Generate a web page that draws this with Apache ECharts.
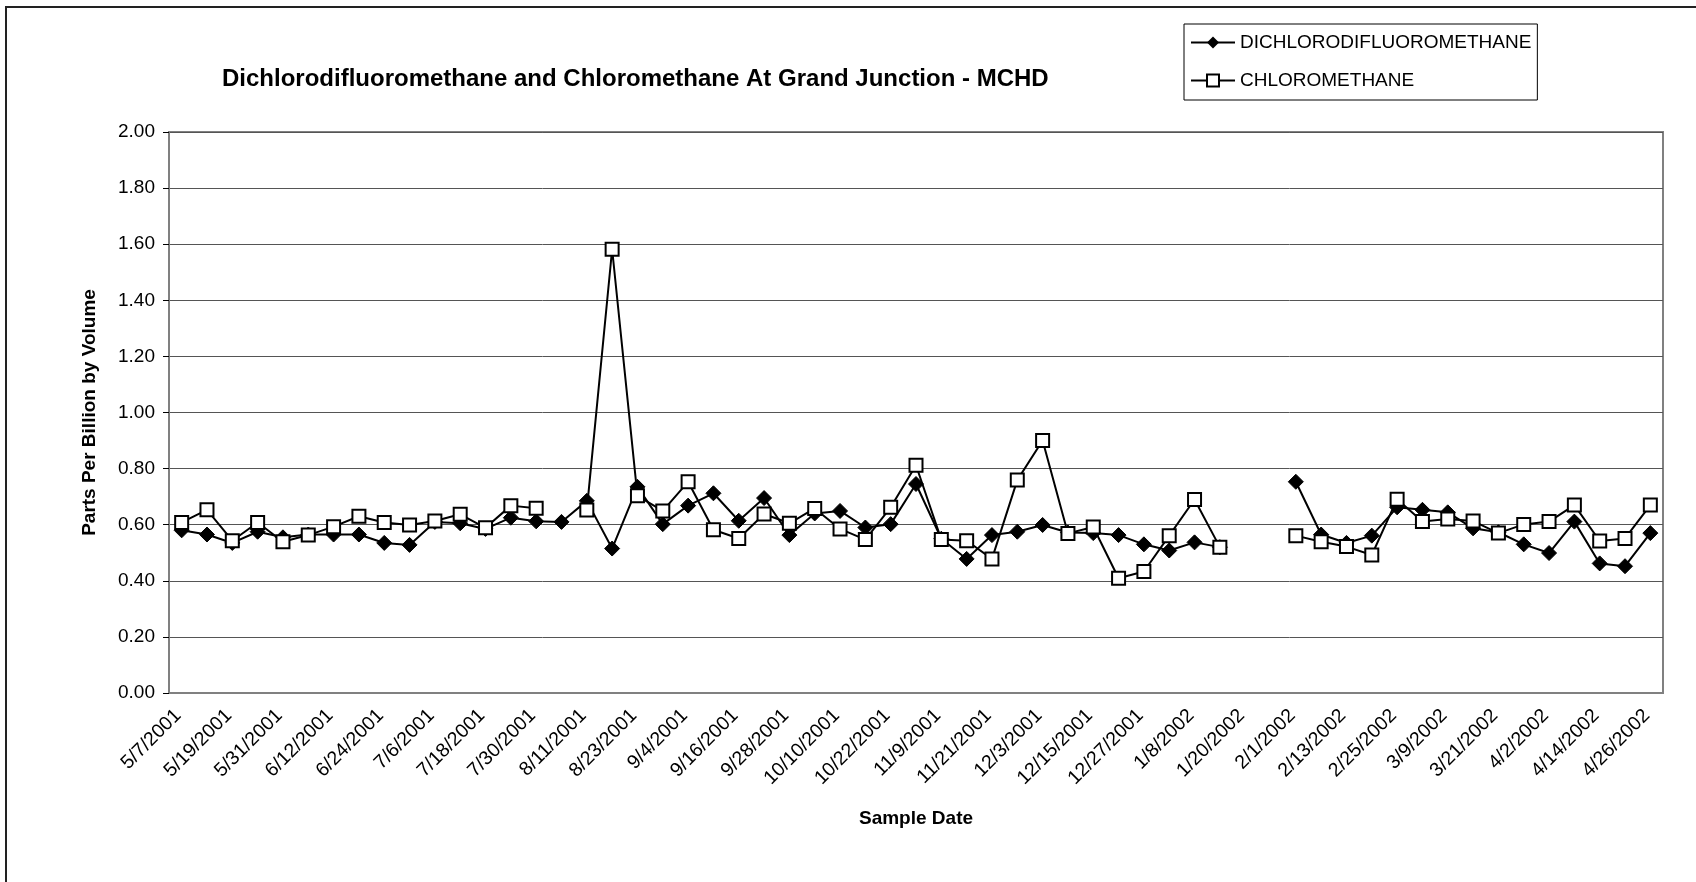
<!DOCTYPE html>
<html>
<head>
<meta charset="utf-8">
<script src="https://cdn.jsdelivr.net/npm/echarts@6/dist/echarts.min.js"></script>
<style>
  html, body { margin: 0; padding: 0; background: #fff; }
  #chart { width: 1696px; height: 882px; }
</style>
</head>
<body>
<div id="chart"></div>
<script>
// sample dates (every other one is labelled on the axis)
const sampleDates = [
  '5/7/2001', '5/13/2001', '5/19/2001', '5/25/2001', '5/31/2001', '6/6/2001',
  '6/12/2001', '6/18/2001', '6/24/2001', '6/30/2001', '7/6/2001', '7/12/2001',
  '7/18/2001', '7/24/2001', '7/30/2001', '8/5/2001', '8/11/2001', '8/17/2001',
  '8/23/2001', '8/29/2001', '9/4/2001', '9/10/2001', '9/16/2001', '9/22/2001',
  '9/28/2001', '10/4/2001', '10/10/2001', '10/16/2001', '10/22/2001', '11/3/2001',
  '11/9/2001', '11/15/2001', '11/21/2001', '11/27/2001', '12/3/2001', '12/9/2001',
  '12/15/2001', '12/21/2001', '12/27/2001', '1/2/2002', '1/8/2002', '1/14/2002',
  '1/20/2002', '1/26/2002', '2/1/2002', '2/7/2002', '2/13/2002', '2/19/2002',
  '2/25/2002', '3/3/2002', '3/9/2002', '3/15/2002', '3/21/2002', '3/27/2002',
  '4/2/2002', '4/8/2002', '4/14/2002', '4/20/2002', '4/26/2002'
]

// ppbv values, null = no sample
const dichlorodifluoromethane = [
  0.58, 0.565, 0.535, 0.575, 0.555, 0.565, 0.565, 0.565, 0.535, 0.528,
  0.61, 0.605, 0.585, 0.625, 0.612, 0.61, 0.685, 0.515, 0.735, 0.602,
  0.668, 0.712, 0.614, 0.695, 0.563, 0.64, 0.649, 0.59, 0.602, 0.745,
  0.55, 0.478, 0.563, 0.575, 0.599, 0.572, 0.57, 0.563, 0.53, 0.508,
  0.537, 0.52, null, null, 0.753, 0.565, 0.535, 0.561, 0.662, 0.653,
  0.644, 0.587, 0.573, 0.53, 0.499, 0.611, 0.462, 0.452, 0.57
]

const chloromethane = [
  0.608, 0.653, 0.543, 0.608, 0.539, 0.563, 0.593, 0.63, 0.608, 0.599,
  0.613, 0.637, 0.589, 0.668, 0.659, null, 0.652, 1.582, 0.703, 0.649,
  0.753, 0.582, 0.551, 0.638, 0.605, 0.658, 0.585, 0.547, 0.662, 0.812,
  0.547, 0.543, 0.478, 0.759, 0.90, 0.569, 0.592, 0.409, 0.433, 0.561,
  0.69, 0.52, null, null, 0.561, 0.539, 0.522, 0.492, 0.691, 0.611,
  0.62, 0.613, 0.57, 0.601, 0.611, 0.67, 0.542, 0.551, 0.67
]

const font = '"Liberation Sans", Arial, sans-serif'

const myChart = echarts.init(document.getElementById('chart'))

const option = {
  animation: false,
  backgroundColor: '#fff',
  textStyle: { fontFamily: font, color: '#000' },
  title: {
    text: 'Dichlorodifluoromethane and Chloromethane At Grand Junction - MCHD',
    left: 222,
    top: 67,
    padding: 0,
    textStyle: { fontFamily: font, fontSize: 24, fontWeight: 'bold', color: '#000' },
  },
  legend: {
    orient: 'vertical',
    left: 1184,
    top: 24,
    padding: [9, 6, 10, 6],
    itemGap: 19,
    itemWidth: 44,
    itemHeight: 15,
    backgroundColor: '#fff',
    borderColor: '#000',
    borderWidth: 1,
    textStyle: { fontFamily: font, fontSize: 19, color: '#000' },
    data: ['DICHLORODIFLUOROMETHANE', 'CHLOROMETHANE'],
  },
  grid: {
    left: 169,
    right: 33,
    top: 132,
    bottom: 189,
    show: true,
    borderColor: '#808080',
    borderWidth: 2,
  },
  xAxis: {
    type: 'category',
    data: sampleDates,
    boundaryGap: true,
    name: 'Sample Date',
    nameLocation: 'middle',
    nameGap: 116,
    nameTextStyle: { fontFamily: font, fontSize: 19, fontWeight: 'bold', color: '#000' },
    axisLine: { lineStyle: { color: '#808080', width: 2 } },
    axisTick: { interval: 0, length: 6, lineStyle: { color: '#000', width: 1 } },
    axisLabel: {
      interval: 1,
      rotate: 45,
      margin: 16,
      padding: [0, 5, 0, 0],
      fontFamily: font,
      fontSize: 19.5,
      color: '#000',
    },
    splitLine: { show: false },
  },
  yAxis: {
    type: 'value',
    min: 0,
    max: 2,
    interval: 0.2,
    name: 'Parts Per Billion by Volume',
    nameLocation: 'middle',
    nameGap: 70,
    nameTextStyle: { fontFamily: font, fontSize: 19, fontWeight: 'bold', color: '#000' },
    axisLine: { show: true, lineStyle: { color: '#808080', width: 2 } },
    axisTick: { show: true, length: 6, lineStyle: { color: '#000', width: 1 } },
    axisLabel: {
      margin: 14,
      fontFamily: font,
      fontSize: 19,
      color: '#000',
      formatter: (v) => v.toFixed(2),
    },
    splitLine: { lineStyle: { color: '#555', width: 1 } },
  },
  series: [
    {
      name: 'DICHLORODIFLUOROMETHANE',
      type: 'line',
      data: dichlorodifluoromethane,
      connectNulls: false,
      symbol: 'diamond',
      symbolSize: 15,
      lineStyle: { color: '#000', width: 2 },
      itemStyle: { color: '#000', borderColor: '#000' },
    },
    {
      name: 'CHLOROMETHANE',
      type: 'line',
      data: chloromethane,
      connectNulls: false,
      symbol: 'rect',
      symbolSize: 13,
      lineStyle: { color: '#000', width: 2 },
      itemStyle: { color: '#fff', borderColor: '#000', borderWidth: 2 },
    },
  ],
  graphic: [
    {
      type: 'rect',
      shape: { x: 6, y: 7, width: 1720, height: 920 },
      style: { fill: 'none', stroke: '#222', lineWidth: 2 },
      silent: true,
    },
  ],
}

myChart.setOption(option)

window.addEventListener('resize', () => {
  myChart.resize()
})
</script>
</body>
</html>
